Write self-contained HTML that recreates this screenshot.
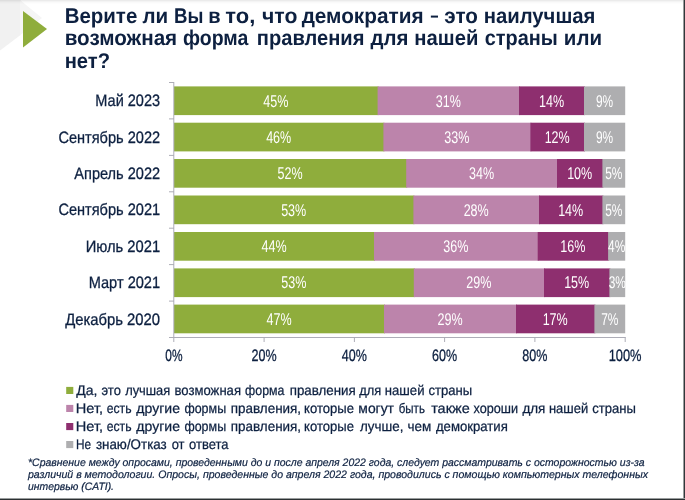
<!DOCTYPE html>
<html lang="ru">
<head>
<meta charset="utf-8">
<title>Верите ли Вы в то, что демократия - это наилучшая возможная форма правления</title>
<style>
html,body{margin:0;padding:0;background:#fff;}
body{width:685px;height:500px;overflow:hidden;}
svg{display:block;}
text{font-family:"Liberation Sans", "DejaVu Sans", sans-serif;text-rendering:geometricPrecision;}
.t{font-weight:bold;font-size:21.3px;fill:#0d2040;}
.c{font-size:16.5px;fill:#0d2040;stroke:#0d2040;stroke-width:0.3px;}
.v{font-size:17px;fill:#fff;}
.l{font-size:13.9px;fill:#0d2040;stroke:#0d2040;stroke-width:0.25px;}
.f{font-size:10.8px;font-style:italic;fill:#0d2040;stroke:#0d2040;stroke-width:0.2px;}
</style>
</head>
<body>
<svg width="685" height="500" viewBox="0 0 685 500">
<rect x="0" y="0" width="685" height="500" fill="#ffffff"/>
<polygon points="0,0 20.5,0 20.5,35 0,50.6" fill="#f1f1f1"/>
<polygon points="20,0 42,18 20,35.2" fill="#f5f5f5"/>
<rect x="0" y="0" width="685" height="1" fill="#000" fill-opacity="0.08"/>
<rect x="0" y="1" width="685" height="1" fill="#000" fill-opacity="0.043"/>
<rect x="0" y="2" width="685" height="1" fill="#000" fill-opacity="0.02"/>
<rect x="0" y="3" width="685" height="1" fill="#000" fill-opacity="0.008"/>
<polygon points="23,11 47,29 23,47.4" fill="#8fad3c"/>
<text class="t" y="22.7"><tspan x="64.63" textLength="72.64" lengthAdjust="spacingAndGlyphs">Верите</tspan> <tspan x="142.50" textLength="25.71" lengthAdjust="spacingAndGlyphs">ли</tspan> <tspan x="174.05" textLength="29.40" lengthAdjust="spacingAndGlyphs">Вы</tspan> <tspan x="208.36" textLength="12.35" lengthAdjust="spacingAndGlyphs">в</tspan> <tspan x="225.29" textLength="29.98" lengthAdjust="spacingAndGlyphs">то,</tspan> <tspan x="262.02" textLength="35.41" lengthAdjust="spacingAndGlyphs">что</tspan> <tspan x="301.63" textLength="121.93" lengthAdjust="spacingAndGlyphs">демократия</tspan> <tspan x="429.69" dy="-2" font-size="17" textLength="9.39" lengthAdjust="spacingAndGlyphs">-</tspan> <tspan x="444.37" dy="2" textLength="33.64" lengthAdjust="spacingAndGlyphs">это</tspan> <tspan x="483.66" textLength="111.80" lengthAdjust="spacingAndGlyphs">наилучшая</tspan></text>
<text class="t" y="45.1"><tspan x="64.69" textLength="112.47" lengthAdjust="spacingAndGlyphs">возможная</tspan> <tspan x="183.00" textLength="65.36" lengthAdjust="spacingAndGlyphs">форма</tspan> <tspan x="256.84" textLength="107.62" lengthAdjust="spacingAndGlyphs">правления</tspan> <tspan x="370.45" textLength="37.94" lengthAdjust="spacingAndGlyphs">для</tspan> <tspan x="414.37" textLength="64.07" lengthAdjust="spacingAndGlyphs">нашей</tspan> <tspan x="484.74" textLength="73.05" lengthAdjust="spacingAndGlyphs">страны</tspan> <tspan x="563.87" textLength="38.21" lengthAdjust="spacingAndGlyphs">или</tspan></text>
<text class="t" y="67.7"><tspan x="64.67" textLength="45.36" lengthAdjust="spacingAndGlyphs">нет?</tspan></text>
<text class="l" y="395.0"><tspan x="76.15" textLength="21.21" lengthAdjust="spacingAndGlyphs">Да,</tspan> <tspan x="101.54" textLength="19.33" lengthAdjust="spacingAndGlyphs">это</tspan> <tspan x="125.15" textLength="45.12" lengthAdjust="spacingAndGlyphs">лучшая</tspan> <tspan x="174.54" textLength="66.47" lengthAdjust="spacingAndGlyphs">возможная</tspan> <tspan x="245.08" textLength="39.33" lengthAdjust="spacingAndGlyphs">форма</tspan> <tspan x="289.68" textLength="66.01" lengthAdjust="spacingAndGlyphs">правления</tspan> <tspan x="359.21" textLength="21.99" lengthAdjust="spacingAndGlyphs">для</tspan> <tspan x="384.76" textLength="39.73" lengthAdjust="spacingAndGlyphs">нашей</tspan> <tspan x="428.43" textLength="43.73" lengthAdjust="spacingAndGlyphs">страны</tspan></text>
<text class="l" y="413.0"><tspan x="75.83" textLength="27.25" lengthAdjust="spacingAndGlyphs">Нет,</tspan> <tspan x="106.67" textLength="24.87" lengthAdjust="spacingAndGlyphs">есть</tspan> <tspan x="136.38" textLength="43.61" lengthAdjust="spacingAndGlyphs">другие</tspan> <tspan x="184.41" textLength="41.70" lengthAdjust="spacingAndGlyphs">формы</tspan> <tspan x="230.75" textLength="70.35" lengthAdjust="spacingAndGlyphs">правления,</tspan> <tspan x="304.04" textLength="49.89" lengthAdjust="spacingAndGlyphs">которые</tspan> <tspan x="358.34" textLength="35.66" lengthAdjust="spacingAndGlyphs">могут</tspan> <tspan x="398.74" textLength="26.17" lengthAdjust="spacingAndGlyphs">быть</tspan> <tspan x="431.15" textLength="38.56" lengthAdjust="spacingAndGlyphs">также</tspan> <tspan x="473.47" textLength="44.56" lengthAdjust="spacingAndGlyphs">хороши</tspan> <tspan x="522.38" textLength="22.95" lengthAdjust="spacingAndGlyphs">для</tspan> <tspan x="548.94" textLength="39.25" lengthAdjust="spacingAndGlyphs">нашей</tspan> <tspan x="592.16" textLength="43.74" lengthAdjust="spacingAndGlyphs">страны</tspan></text>
<text class="l" y="431.0"><tspan x="75.83" textLength="27.25" lengthAdjust="spacingAndGlyphs">Нет,</tspan> <tspan x="106.67" textLength="24.87" lengthAdjust="spacingAndGlyphs">есть</tspan> <tspan x="136.38" textLength="43.61" lengthAdjust="spacingAndGlyphs">другие</tspan> <tspan x="184.41" textLength="41.70" lengthAdjust="spacingAndGlyphs">формы</tspan> <tspan x="230.75" textLength="70.35" lengthAdjust="spacingAndGlyphs">правления,</tspan> <tspan x="304.04" textLength="49.89" lengthAdjust="spacingAndGlyphs">которые</tspan> <tspan x="360.02" textLength="43.41" lengthAdjust="spacingAndGlyphs">лучше,</tspan> <tspan x="407.43" textLength="23.81" lengthAdjust="spacingAndGlyphs">чем</tspan> <tspan x="435.93" textLength="71.91" lengthAdjust="spacingAndGlyphs">демократия</tspan></text>
<text class="l" y="449.0"><tspan x="76.07" textLength="15.10" lengthAdjust="spacingAndGlyphs">Не</tspan> <tspan x="95.92" textLength="70.79" lengthAdjust="spacingAndGlyphs">знаю/Отказ</tspan> <tspan x="171.72" textLength="12.83" lengthAdjust="spacingAndGlyphs">от</tspan> <tspan x="189.06" textLength="39.41" lengthAdjust="spacingAndGlyphs">ответа</tspan></text>
<rect x="174.0" y="86.4" width="204.6" height="28.7" fill="#8fad3c"/>
<rect x="377.6" y="86.4" width="142.4" height="28.7" fill="#bc84ab"/>
<rect x="519.0" y="86.4" width="66.0" height="28.7" fill="#8e2f6f"/>
<rect x="584.0" y="86.4" width="41.2" height="28.7" fill="#aeaeb0"/>
<text class="v" x="275.8" y="106.5" text-anchor="middle" textLength="25.1" lengthAdjust="spacingAndGlyphs">45%</text>
<text class="v" x="448.3" y="106.5" text-anchor="middle" textLength="25.1" lengthAdjust="spacingAndGlyphs">31%</text>
<text class="v" x="551.5" y="106.5" text-anchor="middle" textLength="25.1" lengthAdjust="spacingAndGlyphs">14%</text>
<text class="v" x="604.6" y="106.5" text-anchor="middle" textLength="17.2" lengthAdjust="spacingAndGlyphs">9%</text>
<text class="c" x="160.1" y="106.2" text-anchor="end" textLength="64.8" lengthAdjust="spacingAndGlyphs">Май 2023</text>
<rect x="174.0" y="122.7" width="210.4" height="28.7" fill="#8fad3c"/>
<rect x="383.4" y="122.7" width="148.0" height="28.7" fill="#bc84ab"/>
<rect x="530.4" y="122.7" width="54.6" height="28.7" fill="#8e2f6f"/>
<rect x="584.0" y="122.7" width="41.2" height="28.7" fill="#aeaeb0"/>
<text class="v" x="278.7" y="142.8" text-anchor="middle" textLength="25.1" lengthAdjust="spacingAndGlyphs">46%</text>
<text class="v" x="456.9" y="142.8" text-anchor="middle" textLength="25.1" lengthAdjust="spacingAndGlyphs">33%</text>
<text class="v" x="557.2" y="142.8" text-anchor="middle" textLength="25.1" lengthAdjust="spacingAndGlyphs">12%</text>
<text class="v" x="604.6" y="142.8" text-anchor="middle" textLength="17.2" lengthAdjust="spacingAndGlyphs">9%</text>
<text class="c" x="160.1" y="142.6" text-anchor="end" textLength="101.7" lengthAdjust="spacingAndGlyphs">Сентябрь 2022</text>
<rect x="174.0" y="159.0" width="233.2" height="28.7" fill="#8fad3c"/>
<rect x="406.2" y="159.0" width="151.8" height="28.7" fill="#bc84ab"/>
<rect x="557.0" y="159.0" width="46.4" height="28.7" fill="#8e2f6f"/>
<rect x="602.4" y="159.0" width="22.8" height="28.7" fill="#aeaeb0"/>
<text class="v" x="290.1" y="179.0" text-anchor="middle" textLength="25.1" lengthAdjust="spacingAndGlyphs">52%</text>
<text class="v" x="481.6" y="179.0" text-anchor="middle" textLength="25.1" lengthAdjust="spacingAndGlyphs">34%</text>
<text class="v" x="579.7" y="179.0" text-anchor="middle" textLength="25.1" lengthAdjust="spacingAndGlyphs">10%</text>
<text class="v" x="613.8" y="179.0" text-anchor="middle" textLength="17.2" lengthAdjust="spacingAndGlyphs">5%</text>
<text class="c" x="160.1" y="178.8" text-anchor="end" textLength="85.8" lengthAdjust="spacingAndGlyphs">Апрель 2022</text>
<rect x="174.0" y="195.5" width="240.4" height="28.7" fill="#8fad3c"/>
<rect x="413.4" y="195.5" width="126.6" height="28.7" fill="#bc84ab"/>
<rect x="539.0" y="195.5" width="64.4" height="28.7" fill="#8e2f6f"/>
<rect x="602.4" y="195.5" width="22.8" height="28.7" fill="#aeaeb0"/>
<text class="v" x="293.7" y="215.5" text-anchor="middle" textLength="25.1" lengthAdjust="spacingAndGlyphs">53%</text>
<text class="v" x="476.2" y="215.5" text-anchor="middle" textLength="25.1" lengthAdjust="spacingAndGlyphs">28%</text>
<text class="v" x="570.7" y="215.5" text-anchor="middle" textLength="25.1" lengthAdjust="spacingAndGlyphs">14%</text>
<text class="v" x="613.8" y="215.5" text-anchor="middle" textLength="17.2" lengthAdjust="spacingAndGlyphs">5%</text>
<text class="c" x="160.1" y="215.3" text-anchor="end" textLength="101.7" lengthAdjust="spacingAndGlyphs">Сентябрь 2021</text>
<rect x="174.0" y="232.0" width="201.0" height="28.7" fill="#8fad3c"/>
<rect x="374.0" y="232.0" width="164.7" height="28.7" fill="#bc84ab"/>
<rect x="537.7" y="232.0" width="71.4" height="28.7" fill="#8e2f6f"/>
<rect x="608.1" y="232.0" width="17.1" height="28.7" fill="#aeaeb0"/>
<text class="v" x="274.0" y="252.0" text-anchor="middle" textLength="25.1" lengthAdjust="spacingAndGlyphs">44%</text>
<text class="v" x="455.9" y="252.0" text-anchor="middle" textLength="25.1" lengthAdjust="spacingAndGlyphs">36%</text>
<text class="v" x="572.9" y="252.0" text-anchor="middle" textLength="25.1" lengthAdjust="spacingAndGlyphs">16%</text>
<text class="v" x="616.7" y="252.0" text-anchor="middle" textLength="17.2" lengthAdjust="spacingAndGlyphs">4%</text>
<text class="c" x="160.1" y="251.8" text-anchor="end" textLength="74.4" lengthAdjust="spacingAndGlyphs">Июль 2021</text>
<rect x="174.0" y="268.4" width="240.8" height="28.7" fill="#8fad3c"/>
<rect x="413.8" y="268.4" width="131.2" height="28.7" fill="#bc84ab"/>
<rect x="544.0" y="268.4" width="66.4" height="28.7" fill="#8e2f6f"/>
<rect x="609.4" y="268.4" width="15.8" height="28.7" fill="#aeaeb0"/>
<text class="v" x="293.9" y="288.4" text-anchor="middle" textLength="25.1" lengthAdjust="spacingAndGlyphs">53%</text>
<text class="v" x="478.9" y="288.4" text-anchor="middle" textLength="25.1" lengthAdjust="spacingAndGlyphs">29%</text>
<text class="v" x="576.7" y="288.4" text-anchor="middle" textLength="25.1" lengthAdjust="spacingAndGlyphs">15%</text>
<text class="v" x="617.3" y="288.4" text-anchor="middle" textLength="17.2" lengthAdjust="spacingAndGlyphs">3%</text>
<text class="c" x="160.1" y="288.2" text-anchor="end" textLength="71.4" lengthAdjust="spacingAndGlyphs">Март 2021</text>
<rect x="174.0" y="304.6" width="211.0" height="28.7" fill="#8fad3c"/>
<rect x="384.0" y="304.6" width="133.0" height="28.7" fill="#bc84ab"/>
<rect x="516.0" y="304.6" width="79.4" height="28.7" fill="#8e2f6f"/>
<rect x="594.4" y="304.6" width="30.8" height="28.7" fill="#aeaeb0"/>
<text class="v" x="279.0" y="324.7" text-anchor="middle" textLength="25.1" lengthAdjust="spacingAndGlyphs">47%</text>
<text class="v" x="450.0" y="324.7" text-anchor="middle" textLength="25.1" lengthAdjust="spacingAndGlyphs">29%</text>
<text class="v" x="555.2" y="324.7" text-anchor="middle" textLength="25.1" lengthAdjust="spacingAndGlyphs">17%</text>
<text class="v" x="609.8" y="324.7" text-anchor="middle" textLength="17.2" lengthAdjust="spacingAndGlyphs">7%</text>
<text class="c" x="160.1" y="324.5" text-anchor="end" textLength="94.9" lengthAdjust="spacingAndGlyphs">Декабрь 2020</text>
<path d="M173.8 82V337.5" stroke="#adadb7" stroke-width="1" fill="none"/>
<path d="M173 337.5H625.5" stroke="#adadb7" stroke-width="1" fill="none"/>
<path d="M169 82.5H174M169 118.9H174M169 155.4H174M169 191.8H174M169 228.2H174M169 264.6H174M169 301.1H174M169 337.5H174" stroke="#adadb7" stroke-width="1" fill="none"/>
<path d="M173.8 337V342M264.1 337V342M354.4 337V342M444.6 337V342M534.9 337V342M625.2 337V342" stroke="#adadb7" stroke-width="1" fill="none"/>
<text class="c" x="173.9" y="361.25" text-anchor="middle" textLength="17.2" lengthAdjust="spacingAndGlyphs">0%</text>
<text class="c" x="264.1" y="361.25" text-anchor="middle" textLength="25.1" lengthAdjust="spacingAndGlyphs">20%</text>
<text class="c" x="354.4" y="361.25" text-anchor="middle" textLength="25.1" lengthAdjust="spacingAndGlyphs">40%</text>
<text class="c" x="444.6" y="361.25" text-anchor="middle" textLength="25.1" lengthAdjust="spacingAndGlyphs">60%</text>
<text class="c" x="534.9" y="361.25" text-anchor="middle" textLength="25.1" lengthAdjust="spacingAndGlyphs">80%</text>
<text class="c" x="625.1" y="361.25" text-anchor="middle" textLength="32.9" lengthAdjust="spacingAndGlyphs">100%</text>
<rect x="66.2" y="386.9" width="7.1" height="7.1" fill="#8fad3c"/>
<rect x="66.2" y="404.9" width="7.1" height="7.1" fill="#bc84ab"/>
<rect x="66.2" y="423.0" width="7.1" height="7.1" fill="#8e2f6f"/>
<rect x="66.2" y="441.0" width="7.1" height="7.1" fill="#aeaeb0"/>
<text class="f" x="28" y="466.3" textLength="616.6" lengthAdjust="spacingAndGlyphs">*Сравнение между опросами, проведенными до и после апреля 2022 года, следует рассматривать с осторожностью из-за</text>
<text class="f" x="28" y="478.3" textLength="620.0" lengthAdjust="spacingAndGlyphs">различий в методологии. Опросы, проведенные до апреля 2022 года, проводились с помощью компьютерных телефонных</text>
<text class="f" x="28" y="490.4" textLength="86.0" lengthAdjust="spacingAndGlyphs">интервью (CATI).</text>
<rect x="683" y="0" width="1" height="500" fill="#9a9d9e"/>
<rect x="684" y="0" width="1" height="500" fill="#32373a"/>
<rect x="0" y="498" width="685" height="1" fill="#9a9d9e"/>
<rect x="0" y="499" width="685" height="1" fill="#2c3032"/>
</svg>
</body>
</html>
